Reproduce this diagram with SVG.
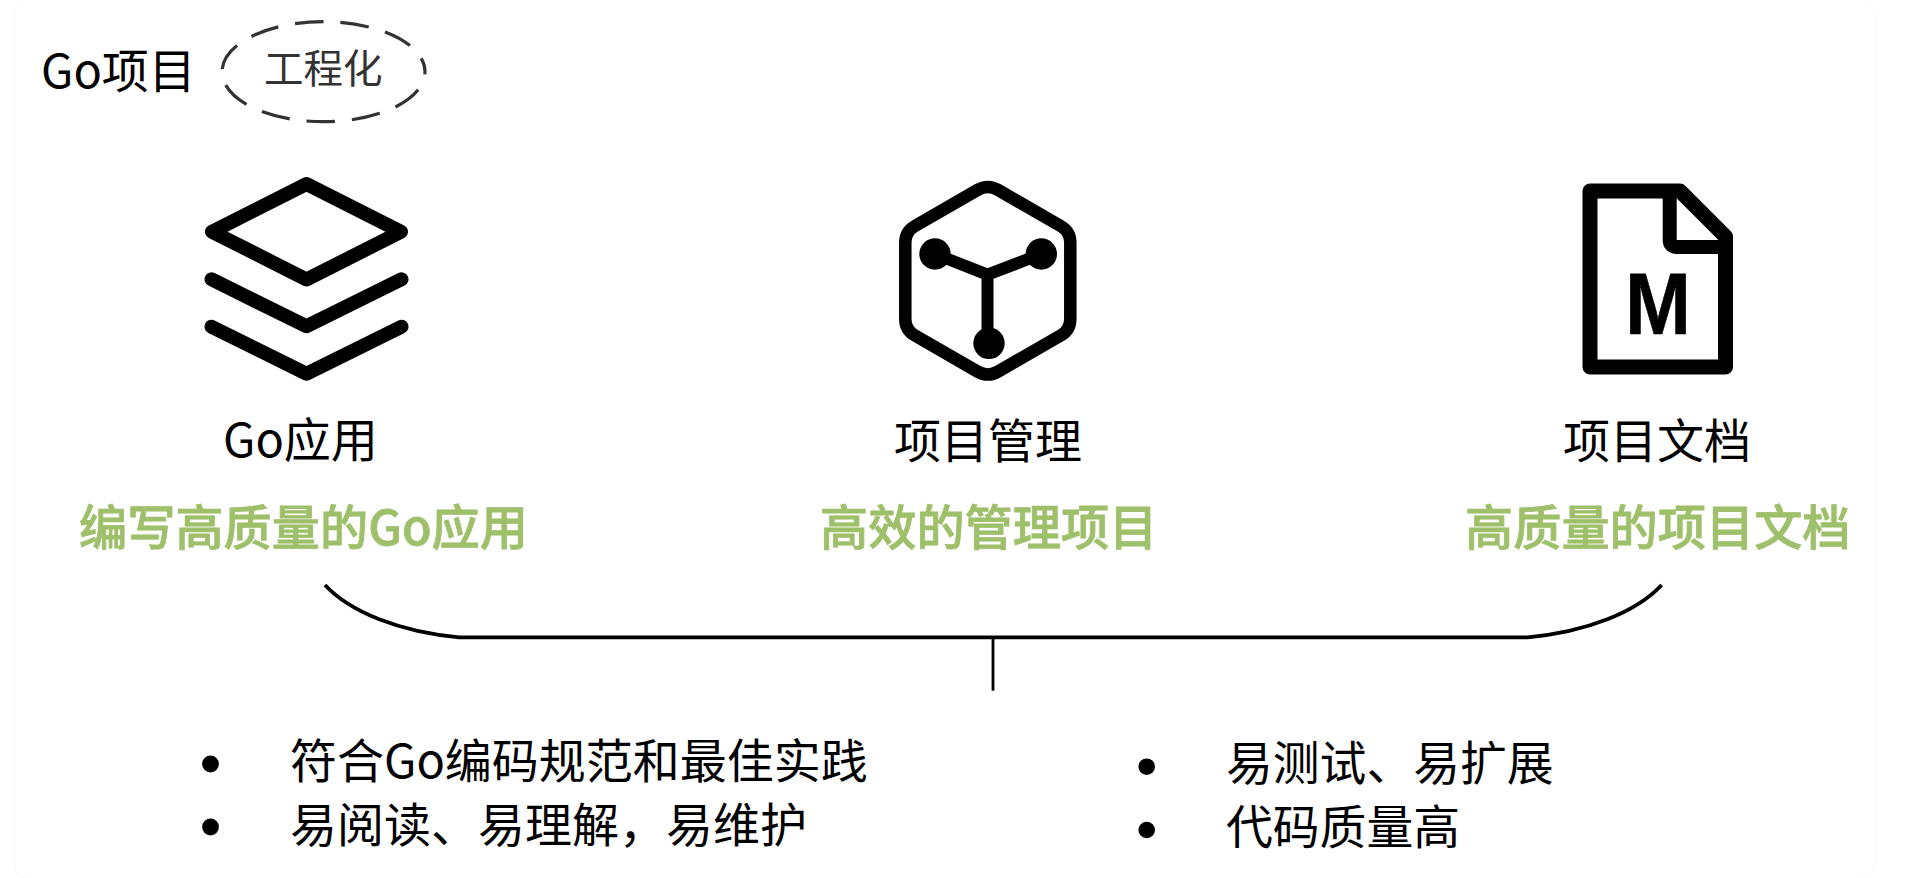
<svg xmlns="http://www.w3.org/2000/svg" width="1910" height="878" viewBox="0 0 1910 878">
<style>
text{font-family:"Noto Sans CJK SC","Noto Sans",sans-serif;fill:#000}
.lab{font-size:47px}
.sub{font-size:48.2px;font-weight:500;fill:#9fc06b;stroke:#9fc06b;stroke-width:.8px}
.li{font-size:47px}
.li2{font-size:46.8px}
.ic{fill:none;stroke:#000;stroke-linejoin:round;stroke-linecap:round}
.dot{fill:#000;stroke:none}
.con{fill:none;stroke:#000}
</style>
<rect width="1910" height="878" fill="#fff"/>
<rect x="13.5" y="-1" width="1861.5" height="880" rx="18" fill="none" stroke="#f8f8f8" stroke-width="1"/>
<g id="title">
<text x="41" y="88" font-size="47px">Go项目</text>
<ellipse cx="323.5" cy="71.7" rx="101.5" ry="50" fill="none" stroke="#333" stroke-width="3.2" stroke-dasharray="28.6 16.9" stroke-dashoffset="25.8"/>
<text x="264" y="83" font-size="39.5px" style="fill:#333">工程化</text>
</g>
<g id="node-go-app">
<g class="ic" stroke-width="14">
<path d="M212 231.7L306.5 184L401 231.7L306.5 279.5Z"/>
<path d="M211.5 279.3L306.5 326.3L401.5 279.3"/>
<path d="M211.5 326.7L306.5 373.7L401.5 326.7"/>
</g>
<text class="lab" x="223" y="457">Go应用</text>
<text class="sub" x="79" y="544.5">编写高质量的Go应用</text>
</g>
<g id="node-project-mgmt">
<path class="ic" stroke-width="12.5" d="M998.2 190L1060.8 226.1Q1070.3 231.6 1070.3 242.6V318.9Q1070.3 329.9 1060.8 335.4L998.2 371.5Q987.8 377.5 977.4 371.5L914.8 335.4Q905.3 329.9 905.3 318.9V242.6Q905.3 231.6 914.8 226.1L977.4 190Q987.8 184 998.2 190Z"/>
<path class="ic" stroke-width="12" d="M935 254L987.5 274.7L1041.3 254M987.5 274.7V343"/>
<circle class="dot" cx="935" cy="254" r="15.7"/>
<circle class="dot" cx="1041.3" cy="254" r="15.7"/>
<circle class="dot" cx="989" cy="343.3" r="15.7"/>
<text class="lab" x="894" y="458">项目管理</text>
<text class="sub" x="820" y="544.5">高效的管理项目</text>
</g>
<g id="node-project-doc">
<path class="ic" stroke-width="15" d="M1590 191H1680L1725.5 236.5V367H1590Z"/>
<path class="ic" stroke-width="14" stroke-linecap="butt" d="M1669.7 191V240Q1669.7 247 1677 247H1725.5"/>
<text transform="translate(1625 333.8) scale(.91 1)" x="0" y="0" font-size="87px" style="font-family:'Liberation Sans',sans-serif;font-weight:700;stroke:#000;stroke-width:.6px;stroke-linejoin:round">M</text>
<text class="lab" x="1563" y="458">项目文档</text>
<text class="sub" x="1465" y="544.5">高质量的项目文档</text>
</g>
<g id="connectors">
<path class="con" stroke-width="3.8" d="M325 585C350 612 400 632 459 637.3H1527.7C1586.6 632 1636.6 612 1661.6 585"/>
<path class="con" stroke-width="2.8" d="M993 637V690.7"/>
</g>
<g id="list-left">
<circle class="dot" cx="210.5" cy="764" r="8.4"/>
<text class="li" x="290" y="778">符合Go编码规范和最佳实践</text>
<circle class="dot" cx="210.5" cy="827" r="8.4"/>
<text class="li" x="290" y="841.5">易阅读、易理解，易维护</text>
</g>
<g id="list-right">
<circle class="dot" cx="1146.7" cy="766.7" r="8.3"/>
<text class="li2" x="1226" y="780">易测试、易扩展</text>
<circle class="dot" cx="1146.7" cy="830" r="8.3"/>
<text class="li2" x="1226" y="844">代码质量高</text>
</g>
</svg>
